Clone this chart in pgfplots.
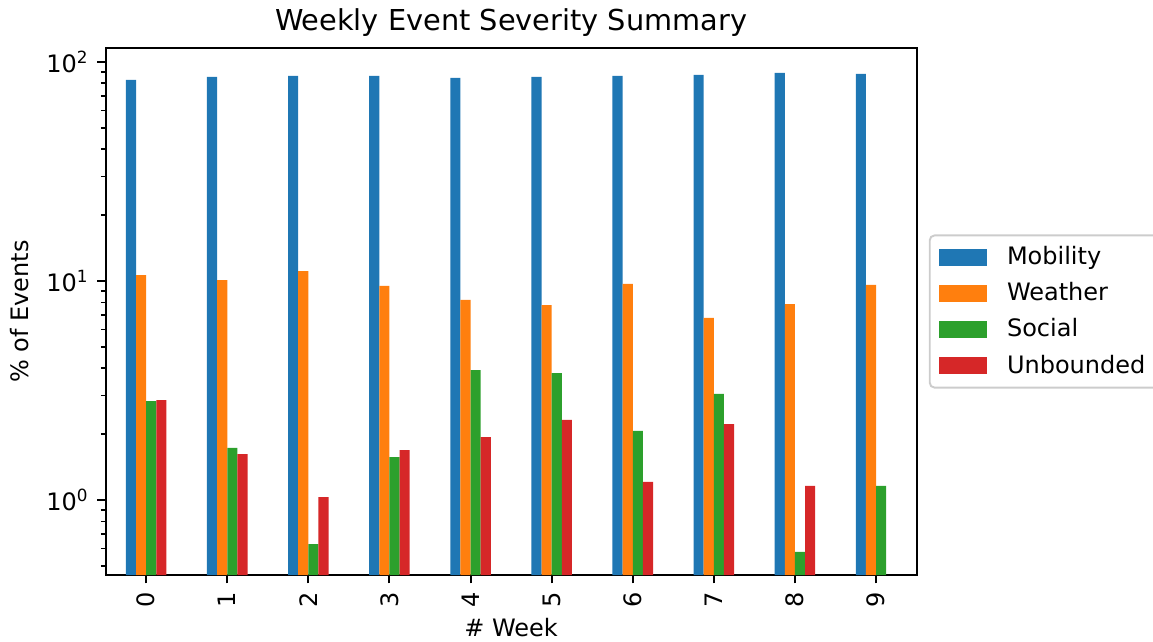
\documentclass[border=0pt]{standalone}
\usepackage{fontspec}
\setmainfont{DejaVu Sans}
\usepackage{pgfplots}
\pgfplotsset{compat=1.18}
\definecolor{tabblue}{HTML}{1F77B4}
\definecolor{taborange}{HTML}{FF7F0E}
\definecolor{tabgreen}{HTML}{2CA02C}
\definecolor{tabred}{HTML}{D62728}
\begin{document}
\begin{tikzpicture}
\useasboundingbox (-44pt,-27.5pt) rectangle (436.4pt,239.6pt);
\begin{axis}[
    at={(0,0)}, anchor=south west,
    scale only axis, width=337.9pt, height=219.6pt,
    title={Weekly Event Severity Summary},
    every axis title shift=0pt,
    title style={at={(axis description cs:0.5,1)}, anchor=center, yshift=10.8pt, font=\fontsize{12}{14}\selectfont},
    xlabel={\# Week},
    ylabel={\% of Events},
    x label style={at={(axis description cs:0.5,-0.1002)}, anchor=center, font=\fontsize{10}{12}\selectfont},
    y label style={at={(axis description cs:-0.1057,0.5)}, anchor=center, font=\fontsize{10}{12}\selectfont},
    ymode=log, log origin y=infty,
    ymin=0.4546, ymax=115.8,
    xmin=-0.5, xmax=9.5,
    ybar=0pt, bar width=0.125,
    xtick={0,1,2,3,4,5,6,7,8,9},
    xticklabels={0,1,2,3,4,5,6,7,8,9},
    xticklabel style={rotate=90, anchor=east},
    ytick={1,10,100},
    yticklabels={10\textsuperscript{0},10\textsuperscript{1},10\textsuperscript{2}},
    minor ytick={0.5,0.6,0.7,0.8,0.9,2,3,4,5,6,7,8,9,20,30,40,50,60,70,80,90},
    tick align=outside,
    xtick pos=left, ytick pos=left,
    major tick length=3.5pt, minor tick length=2pt,
    every tick/.style={black, line width=0.8pt},
    minor tick style={line width=0.6pt},
    axis line style={line width=0.8pt},
    every tick label/.append style={font=\fontsize{10}{12}\selectfont},
    legend style={at={(axis description cs:1.015,0.5)}, anchor=west,
        draw=black!20, rounded corners=2pt, line width=0.8pt,
        font=\fontsize{10}{12}\selectfont, row sep=2pt,
        inner xsep=4pt, inner ysep=2.5pt},
    legend cell align=left,
    legend image code/.code={\fill[#1, sharp corners] (0pt,-3.5pt) rectangle (20pt,3.5pt); \path (26.2pt,0pt);},
]
\addplot[fill=tabblue, draw=none, bar shift=-0.1875] coordinates {
    (0,82.8) (1,85.4) (2,86.3) (3,86.3) (4,84.5) (5,85.4) (6,86.3) (7,87.2) (8,89.1) (9,88.1)
};
\addplot[fill=taborange, draw=none, bar shift=-0.0625] coordinates {
    (0,10.65) (1,10.1) (2,11.1) (3,9.49) (4,8.19) (5,7.77) (6,9.69) (7,6.78) (8,7.85) (9,9.59)
};
\addplot[fill=tabgreen, draw=none, bar shift=0.0625] coordinates {
    (0,2.83) (1,1.73) (2,0.63) (3,1.57) (4,3.92) (5,3.80) (6,2.07) (7,3.05) (8,0.58) (9,1.16)
};
\addplot[fill=tabred, draw=none, bar shift=0.1875] coordinates {
    (0,2.86) (1,1.62) (2,1.03) (3,1.69) (4,1.94) (5,2.32) (6,1.21) (7,2.22) (8,1.16)
};
\legend{Mobility,Weather,Social,Unbounded}
\end{axis}
\end{tikzpicture}
\end{document}
